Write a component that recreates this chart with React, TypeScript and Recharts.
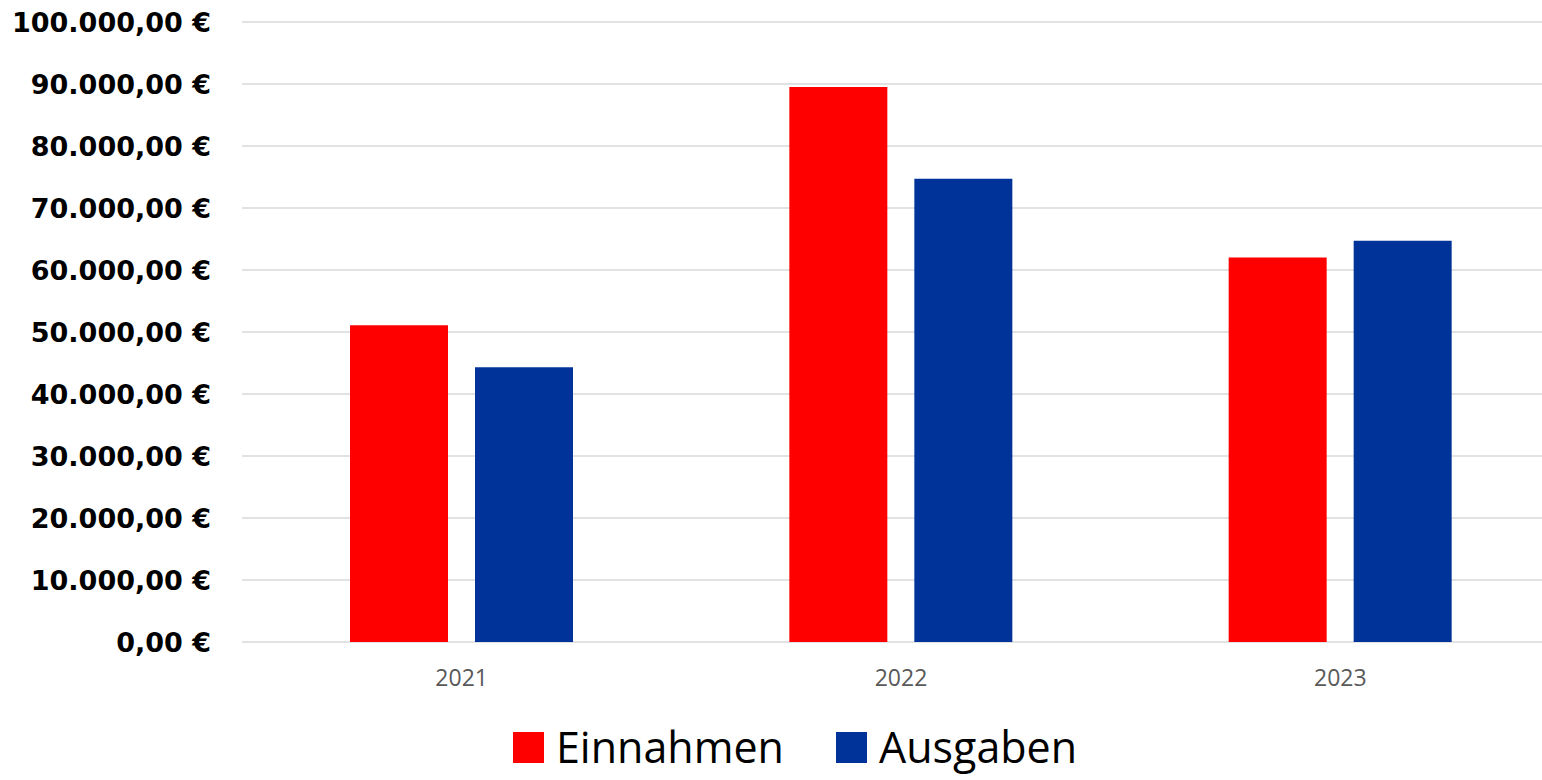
import { BarChart, Bar, XAxis, YAxis, CartesianGrid, Legend } from 'recharts'

const years = ['2021', '2022', '2023']
const einnahmen = [51100, 89500, 62000]
const ausgaben = [44300, 74700, 64700]
const yTicks = [0, 10000, 20000, 30000, 40000, 50000, 60000, 70000, 80000, 90000, 100000]

const seriesInfo = [
  { key: 'einnahmen', name: 'Einnahmen', color: '#ff0000' },
  { key: 'ausgaben', name: 'Ausgaben', color: '#003399' },
]

const data = years.map((year, i) => ({
  year,
  einnahmen: einnahmen[i],
  ausgaben: ausgaben[i],
}))

function formatEuro(v: number): string {
  const whole = Math.round(v)
    .toString()
    .replace(/\B(?=(\d{3})+(?!\d))/g, '.')
  return `${whole},00 €`
}

function LegendBox() {
  return (
    <div
      style={{
        display: 'flex',
        justifyContent: 'center',
        alignItems: 'center',
        gap: 52,
        height: 50,
      }}
    >
      {seriesInfo.map((s) => (
        <div key={s.key} style={{ display: 'flex', alignItems: 'center', gap: 12 }}>
          <div style={{ width: 31, height: 31, background: s.color }} />
          <span
            style={{
              fontFamily: '"Comic Sans MS", "Open Sans", sans-serif',
              fontSize: 43,
              color: '#000',
              lineHeight: '50px',
            }}
          >
            {s.name}
          </span>
        </div>
      ))}
    </div>
  )
}

export default function App() {
  return (
    <div
      style={{
        position: 'absolute',
        top: 0,
        left: 0,
        width: 1542,
        height: 780,
        overflow: 'hidden',
        background: '#fff',
      }}
    >
      <BarChart
        width={1560}
        height={780}
        data={data}
        barSize={98}
        barGap={27}
        margin={{ top: 22, right: 0, left: 0, bottom: 38 }}
      >
        <CartesianGrid vertical={false} stroke="#d9d9d9" strokeWidth={1.5} />
        <XAxis
          dataKey="year"
          axisLine={false}
          tickLine={false}
          tickSize={0}
          tickMargin={28}
          height={50}
          tick={{ fontSize: 23, fill: '#595959', fontFamily: '"Open Sans", sans-serif' }}
        />
        <YAxis
          domain={[0, 100000]}
          ticks={yTicks}
          width={242}
          axisLine={false}
          tickLine={false}
          tickSize={0}
          tickMargin={31}
          tickFormatter={formatEuro}
          tick={{
            fontSize: 27,
            fontWeight: 'bold',
            fill: '#000',
            fontFamily: '"Comic Sans MS", "DejaVu Sans", sans-serif',
          }}
        />
        <Legend
          verticalAlign="bottom"
          content={<LegendBox />}
          wrapperStyle={{ top: 722, left: 0, width: 1590 }}
        />
        {seriesInfo.map((s) => (
          <Bar
            key={s.key}
            dataKey={s.key}
            name={s.name}
            fill={s.color}
            isAnimationActive={false}
          />
        ))}
      </BarChart>
    </div>
  )
}
